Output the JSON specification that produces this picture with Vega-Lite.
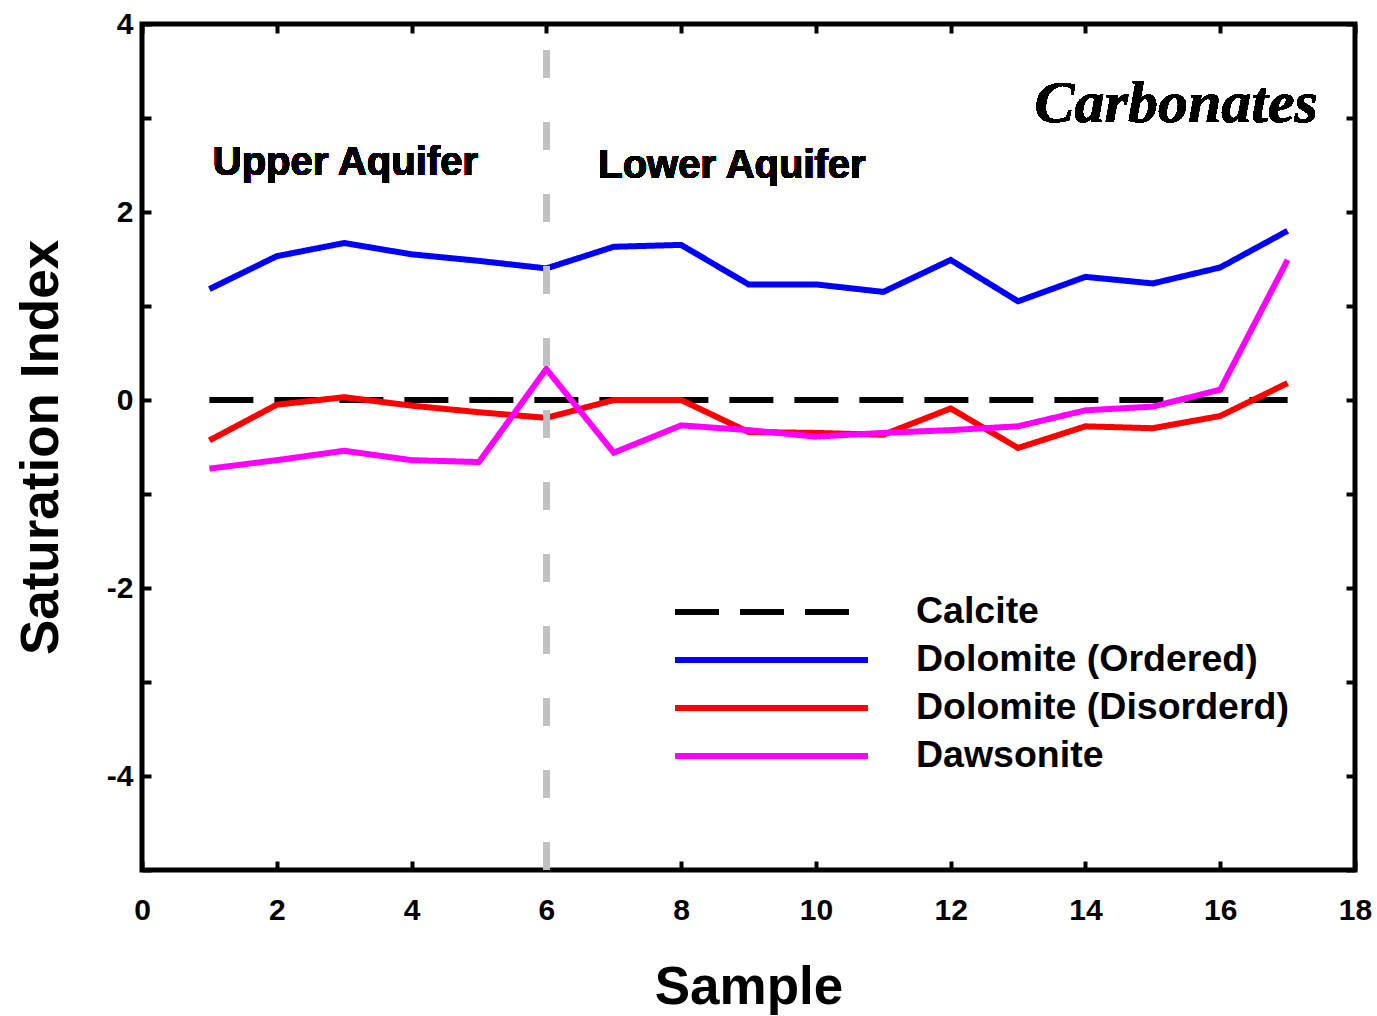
{
  "$schema": "https://vega.github.io/schema/vega-lite/v6.json",
  "autosize": "none",
  "width": 1213,
  "height": 846,
  "padding": {"left": 142, "top": 24, "right": 22, "bottom": 146},
  "background": "white",
  "config": {
    "view": {"stroke": "black", "strokeWidth": 5},
    "font": "Liberation Sans"
  },
  "data": {
    "values": [
      {"sample": 1, "mineral": "Calcite", "si": 0},
      {"sample": 2, "mineral": "Calcite", "si": 0},
      {"sample": 3, "mineral": "Calcite", "si": 0},
      {"sample": 4, "mineral": "Calcite", "si": 0},
      {"sample": 5, "mineral": "Calcite", "si": 0},
      {"sample": 6, "mineral": "Calcite", "si": 0},
      {"sample": 7, "mineral": "Calcite", "si": 0},
      {"sample": 8, "mineral": "Calcite", "si": 0},
      {"sample": 9, "mineral": "Calcite", "si": 0},
      {"sample": 10, "mineral": "Calcite", "si": 0},
      {"sample": 11, "mineral": "Calcite", "si": 0},
      {"sample": 12, "mineral": "Calcite", "si": 0},
      {"sample": 13, "mineral": "Calcite", "si": 0},
      {"sample": 14, "mineral": "Calcite", "si": 0},
      {"sample": 15, "mineral": "Calcite", "si": 0},
      {"sample": 16, "mineral": "Calcite", "si": 0},
      {"sample": 17, "mineral": "Calcite", "si": 0},
      {"sample": 1, "mineral": "Dolomite (Ordered)", "si": 1.18},
      {"sample": 2, "mineral": "Dolomite (Ordered)", "si": 1.53},
      {"sample": 3, "mineral": "Dolomite (Ordered)", "si": 1.67},
      {"sample": 4, "mineral": "Dolomite (Ordered)", "si": 1.55},
      {"sample": 5, "mineral": "Dolomite (Ordered)", "si": 1.48},
      {"sample": 6, "mineral": "Dolomite (Ordered)", "si": 1.40},
      {"sample": 7, "mineral": "Dolomite (Ordered)", "si": 1.63},
      {"sample": 8, "mineral": "Dolomite (Ordered)", "si": 1.65},
      {"sample": 9, "mineral": "Dolomite (Ordered)", "si": 1.23},
      {"sample": 10, "mineral": "Dolomite (Ordered)", "si": 1.23},
      {"sample": 11, "mineral": "Dolomite (Ordered)", "si": 1.15},
      {"sample": 12, "mineral": "Dolomite (Ordered)", "si": 1.49},
      {"sample": 13, "mineral": "Dolomite (Ordered)", "si": 1.05},
      {"sample": 14, "mineral": "Dolomite (Ordered)", "si": 1.31},
      {"sample": 15, "mineral": "Dolomite (Ordered)", "si": 1.24},
      {"sample": 16, "mineral": "Dolomite (Ordered)", "si": 1.41},
      {"sample": 17, "mineral": "Dolomite (Ordered)", "si": 1.80},
      {"sample": 1, "mineral": "Dolomite (Disorderd)", "si": -0.43},
      {"sample": 2, "mineral": "Dolomite (Disorderd)", "si": -0.05},
      {"sample": 3, "mineral": "Dolomite (Disorderd)", "si": 0.03},
      {"sample": 4, "mineral": "Dolomite (Disorderd)", "si": -0.06},
      {"sample": 5, "mineral": "Dolomite (Disorderd)", "si": -0.13},
      {"sample": 6, "mineral": "Dolomite (Disorderd)", "si": -0.19},
      {"sample": 7, "mineral": "Dolomite (Disorderd)", "si": 0.0},
      {"sample": 8, "mineral": "Dolomite (Disorderd)", "si": 0.0},
      {"sample": 9, "mineral": "Dolomite (Disorderd)", "si": -0.34},
      {"sample": 10, "mineral": "Dolomite (Disorderd)", "si": -0.35},
      {"sample": 11, "mineral": "Dolomite (Disorderd)", "si": -0.37},
      {"sample": 12, "mineral": "Dolomite (Disorderd)", "si": -0.09},
      {"sample": 13, "mineral": "Dolomite (Disorderd)", "si": -0.51},
      {"sample": 14, "mineral": "Dolomite (Disorderd)", "si": -0.28},
      {"sample": 15, "mineral": "Dolomite (Disorderd)", "si": -0.30},
      {"sample": 16, "mineral": "Dolomite (Disorderd)", "si": -0.17},
      {"sample": 17, "mineral": "Dolomite (Disorderd)", "si": 0.18},
      {"sample": 1, "mineral": "Dawsonite", "si": -0.73},
      {"sample": 2, "mineral": "Dawsonite", "si": -0.64},
      {"sample": 3, "mineral": "Dawsonite", "si": -0.54},
      {"sample": 4, "mineral": "Dawsonite", "si": -0.64},
      {"sample": 5, "mineral": "Dawsonite", "si": -0.66},
      {"sample": 6, "mineral": "Dawsonite", "si": 0.33},
      {"sample": 7, "mineral": "Dawsonite", "si": -0.56},
      {"sample": 8, "mineral": "Dawsonite", "si": -0.27},
      {"sample": 9, "mineral": "Dawsonite", "si": -0.32},
      {"sample": 10, "mineral": "Dawsonite", "si": -0.39},
      {"sample": 11, "mineral": "Dawsonite", "si": -0.35},
      {"sample": 12, "mineral": "Dawsonite", "si": -0.32},
      {"sample": 13, "mineral": "Dawsonite", "si": -0.28},
      {"sample": 14, "mineral": "Dawsonite", "si": -0.11},
      {"sample": 15, "mineral": "Dawsonite", "si": -0.07},
      {"sample": 16, "mineral": "Dawsonite", "si": 0.11},
      {"sample": 17, "mineral": "Dawsonite", "si": 1.49}
    ]
  },
  "resolve": {"axis": {"x": "independent", "y": "independent"}},
  "layer": [
    {
      "mark": {"type": "line", "strokeWidth": 6, "clip": true},
      "encoding": {
        "x": {
          "field": "sample", "type": "quantitative",
          "scale": {"domain": [0, 18], "nice": false, "zero": false},
          "axis": {
            "orient": "bottom", "title": "Sample", "values": [0, 2, 4, 6, 8, 10, 12, 14, 16, 18],
            "grid": false, "domain": false, "tickSize": -9, "tickWidth": 4, "tickColor": "black",
            "labelFont": "Liberation Sans", "labelFontWeight": "bold", "labelFontSize": 30, "labelColor": "black",
            "labelPadding": 34, "labelFlush": false,
            "titleFont": "Liberation Sans", "titleFontWeight": "bold", "titleFontSize": 53, "titleColor": "black",
            "titlePadding": 36
          }
        },
        "y": {
          "field": "si", "type": "quantitative",
          "scale": {"domain": [-5, 4], "nice": false, "zero": false},
          "axis": {
            "orient": "left", "title": "Saturation Index", "values": [-5, -4, -3, -2, -1, 0, 1, 2, 3, 4],
            "labelExpr": "datum.value % 2 == 0 ? '' + datum.value : ''",
            "grid": false, "domain": false, "tickSize": -9, "tickWidth": 4, "tickColor": "black",
            "labelFont": "Liberation Sans", "labelFontWeight": "bold", "labelFontSize": 30, "labelColor": "black",
            "labelPadding": 18, "labelFlush": false,
            "titleFont": "Liberation Sans", "titleFontWeight": "bold", "titleFontSize": 53, "titleColor": "black",
            "titlePadding": 38
          }
        },
        "color": {
          "field": "mineral", "type": "nominal",
          "scale": {
            "domain": ["Calcite", "Dolomite (Ordered)", "Dolomite (Disorderd)", "Dawsonite"],
            "range": ["#000000", "#0000FF", "#FF0000", "#FF00FF"]
          },
          "legend": {
            "title": null, "orient": "none", "legendX": 530, "legendY": 568, "padding": 0,
            "symbolType": "stroke", "symbolSize": 37249, "symbolStrokeWidth": 6,
            "clipHeight": 40, "rowPadding": 8, "labelOffset": 45,
            "labelFont": "Liberation Sans", "labelFontWeight": "bold", "labelFontSize": 37.5,
            "labelColor": "black", "labelLimit": 600
          }
        },
        "strokeDash": {
          "field": "mineral", "type": "nominal",
          "scale": {
            "domain": ["Calcite", "Dolomite (Ordered)", "Dolomite (Disorderd)", "Dawsonite"],
            "range": [[44, 21], [1, 0], [1, 0], [1, 0]]
          },
          "legend": null
        }
      }
    },
    {
      "mark": {"type": "rule", "color": "#c0c0c0", "strokeWidth": 6, "strokeDash": [28, 44]},
      "encoding": {
        "x": {
          "datum": 6, "type": "quantitative",
          "axis": {
            "orient": "top", "title": null, "values": [0, 2, 4, 6, 8, 10, 12, 14, 16, 18],
            "labels": false, "grid": false, "domain": false, "tickSize": -9, "tickWidth": 4, "tickColor": "black"
          }
        },
        "y": {
          "datum": -5, "type": "quantitative",
          "axis": {
            "orient": "right", "title": null, "values": [-5, -4, -3, -2, -1, 0, 1, 2, 3, 4],
            "labels": false, "grid": false, "domain": false, "tickSize": -9, "tickWidth": 4, "tickColor": "black"
          }
        },
        "y2": {"datum": 4}
      }
    },
    {
      "mark": {"type": "text", "text": "Upper Aquifer", "align": "left", "baseline": "alphabetic",
               "font": "Liberation Sans", "fontWeight": "bold", "fontSize": 40, "color": "black"},
      "encoding": {
        "x": {"datum": 1.05, "type": "quantitative", "axis": null},
        "y": {"datum": 2.39, "type": "quantitative", "axis": null}
      }
    },
    {
      "mark": {"type": "text", "text": "Lower Aquifer", "align": "left", "baseline": "alphabetic",
               "font": "Liberation Sans", "fontWeight": "bold", "fontSize": 40, "color": "black"},
      "encoding": {
        "x": {"datum": 6.77, "type": "quantitative", "axis": null},
        "y": {"datum": 2.36, "type": "quantitative", "axis": null}
      }
    },
    {
      "mark": {"type": "text", "text": "Carbonates", "align": "right", "baseline": "alphabetic",
               "font": "Liberation Serif", "fontWeight": "bold", "fontStyle": "italic", "fontSize": 60, "color": "black"},
      "encoding": {
        "x": {"datum": 17.45, "type": "quantitative", "axis": null},
        "y": {"datum": 2.96, "type": "quantitative", "axis": null}
      }
    }
  ]
}
